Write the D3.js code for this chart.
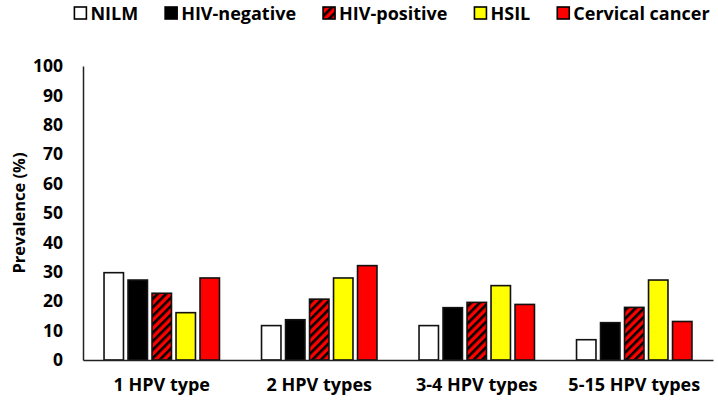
<!DOCTYPE html>
<html lang="en">
<head>
<meta charset="utf-8">
<script src="https://cdn.jsdelivr.net/npm/d3@7"></script>
<style>
  body { margin: 0; background: #fff; }
  text { font-family: "Open Sans", sans-serif; font-weight: 700; fill: #000; }
</style>
</head>
<body>
<div id="chart"></div>
<script>
let categories = ['1 HPV type', '2 HPV types', '3-4 HPV types', '5-15 HPV types']
let series = ['NILM', 'HIV-negative', 'HIV-positive', 'HSIL', 'Cervical cancer']
let nilm = [29.7, 11.7, 11.7, 6.9]
let hivNegative = [27.2, 13.7, 17.8, 12.7]
let hivPositive = [22.7, 20.7, 19.6, 17.9]
let hsil = [16.1, 27.9, 25.3, 27.2]
let cervicalCancer = [27.9, 32.1, 18.9, 13.1]
let yTicks = [0, 10, 20, 30, 40, 50, 60, 70, 80, 90, 100]

let values = [nilm, hivNegative, hivPositive, hsil, cervicalCancer]
let fills = ['#fff', '#000', 'url(#hatch)', '#ffff00', '#ff0000']

let w = 718
let h = 402
let padding = { left: 83, right: 5, top: 66, bottom: 42 }

let svg = d3.select('#chart')
    .append('svg')
    .attr('width', w)
    .attr('height', h)

// red with black diagonal stripes
let pat = svg.append('defs').append('pattern')
    .attr('id', 'hatch')
    .attr('patternUnits', 'userSpaceOnUse')
    .attr('width', 6)
    .attr('height', 6)
    .attr('patternTransform', 'rotate(45)')
pat.append('rect').attr('width', 6).attr('height', 6).attr('fill', '#ff0000')
pat.append('rect').attr('width', 2.6).attr('height', 6).attr('fill', '#000')

let xScale = d3.scaleBand()
    .domain(categories)
    .range([padding.left, w - padding.right])
let bw = xScale.bandwidth()
let inner = d3.scaleBand()
    .domain(series)
    .range([bw / 2 - 60, bw / 2 + 60])
    .paddingInner(0.19)
    .paddingOuter(0.095)
let yScale = d3.scaleLinear()
    .domain([0, 100])
    .range([h - padding.bottom, padding.top])

let rows = []
categories.forEach((c, i) => {
    series.forEach((s, j) => {
        rows.push({ cat: c, ser: s, v: values[j][i], fill: fills[j] })
    })
})

svg.append('g')
    .selectAll('rect')
    .data(rows)
    .enter()
    .append('rect')
    .attr('x', d => xScale(d.cat) + inner(d.ser))
    .attr('y', d => yScale(d.v))
    .attr('width', inner.bandwidth())
    .attr('height', d => yScale(0) - yScale(d.v))
    .attr('fill', d => d.fill)
    .attr('stroke', '#111')
    .attr('stroke-width', 1.6)

let yAxis = d3.axisLeft(yScale).tickValues(yTicks).tickSize(0).tickPadding(20)
let gy = svg.append('g')
    .attr('transform', 'translate(' + padding.left + ',0)')
    .call(yAxis)
gy.select('.domain').attr('stroke', '#222').attr('stroke-width', 1.5)
gy.selectAll('text').style('font-size', '17.5px').style('font-family', '"Open Sans", sans-serif').style('font-weight', 700)

let xAxis = d3.axisBottom(xScale).tickSize(0).tickPadding(18)
let gx = svg.append('g')
    .attr('transform', 'translate(0,' + yScale(0) + ')')
    .call(xAxis)
gx.select('.domain').attr('stroke', '#222').attr('stroke-width', 1.5)
gx.selectAll('text').style('font-size', '18px').style('font-family', '"Open Sans", sans-serif').style('font-weight', 700)

svg.append('text')
    .attr('transform', 'translate(25,' + yScale(50) + ') rotate(-90)')
    .attr('text-anchor', 'middle')
    .style('font-size', '16.5px')
    .text('Prevalence (%)')

// legend, laid out left to right from measured text widths
let lg = svg.append('g')
let cx = 0
series.forEach((s, j) => {
    lg.append('rect')
        .attr('x', cx)
        .attr('y', 7)
        .attr('width', 12)
        .attr('height', 12)
        .attr('fill', fills[j])
        .attr('stroke', '#000')
        .attr('stroke-width', 1.6)
    let t = lg.append('text')
        .attr('x', cx + 16)
        .attr('y', 20)
        .style('font-size', '18px')
        .text(s)
    cx += 16 + t.node().getComputedTextLength() + 27
})
cx -= 27
lg.attr('transform', 'translate(' + (392 - cx / 2) + ',0)')
</script>
</body>
</html>
